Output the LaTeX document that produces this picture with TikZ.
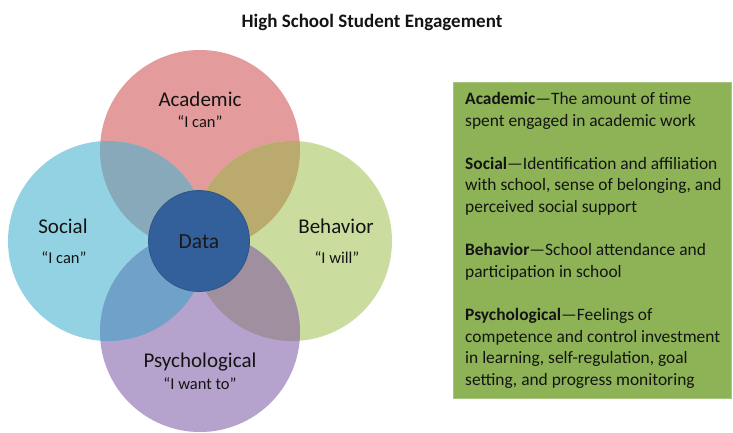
\documentclass[tikz,border=0pt]{standalone}
\usepackage{fontspec}
\setmainfont{Carlito}
\definecolor{acad}{HTML}{E39B9B}
\definecolor{soc}{HTML}{93D2E3}
\definecolor{beh}{HTML}{CADD9F}
\definecolor{psy}{HTML}{B5A3CD}
\definecolor{as}{HTML}{88A9B9}
\definecolor{ab}{HTML}{BBAA6E}
\definecolor{sp}{HTML}{6FA1C9}
\definecolor{bp}{HTML}{A08F9F}
\definecolor{data}{HTML}{33609A}
\definecolor{databorder}{HTML}{2C5588}
\definecolor{boxgreen}{HTML}{8DB356}
\definecolor{txt}{HTML}{141414}
\tikzset{
  venn/.style={circle, minimum size=200pt, inner sep=0pt},
  lab/.style={font=\fontsize{21}{23}\selectfont, text=txt, inner sep=0pt},
  sub/.style={font=\fontsize{16.5}{18}\selectfont, text=txt, inner sep=0pt},
}
\begin{document}
\begin{tikzpicture}[x=1pt,y=-1pt]
\useasboundingbox (0,0) rectangle (733,433);
\fill[white] (0,0) rectangle (733,433);
\coordinate (cA) at (200,150);
\coordinate (cS) at (108,241);
\coordinate (cB) at (292,241);
\coordinate (cP) at (200,332);
% base circles
\node[venn, fill=acad] (A) at (cA) {};
\node[venn, fill=soc] (S) at (cS) {};
\node[venn, fill=beh] (B) at (cB) {};
\node[venn, fill=psy] (P) at (cP) {};
% overlaps
\begin{scope}\clip (cA) circle (100); \fill[as] (cS) circle (100); \end{scope}
\begin{scope}\clip (cA) circle (100); \fill[ab] (cB) circle (100); \end{scope}
\begin{scope}\clip (cP) circle (100); \fill[sp] (cS) circle (100); \end{scope}
\begin{scope}\clip (cP) circle (100); \fill[bp] (cB) circle (100); \end{scope}
% data
\node[circle, minimum size=101pt, inner sep=0pt, fill=data, draw=databorder, line width=0.8pt] (D) at (199,241) {};
\node[font=\fontsize{21.5}{24}\selectfont, text=black!90, inner sep=0pt] (Dl) at (199,242) {Data};
% labels
\node[lab] (Al) at (200,99) {Academic};
\node[sub] (As) at (200,122) {“I can”};
\node[lab] (Sl) at (63,226) {Social};
\node[sub] (Ss) at (64,258) {“I can”};
\node[lab] (Bl) at (336,226) {Behavior};
\node[sub] (Bs) at (337,258) {“I will”};
\node[lab] (Pl) at (200,362) {Psychological};
\node[sub] (Ps) at (200,384) {“I want to”};
% title
\node[font=\fontsize{19}{22}\selectfont\bfseries, text=txt, inner sep=0pt] (T) at (372,22) {High School Student Engagement};
% green box
\node[draw=boxgreen!75!white, fill=boxgreen, minimum width=278pt, minimum height=316pt, anchor=north west, inner sep=0pt, line width=0.6pt] (G) at (453,82) {};
\node[anchor=north west, inner sep=0pt, align=left, text=txt,
      font=\fontsize{17.4}{21.6}\selectfont] (GT) at (465,92)
{\textbf{Academic}—The amount of time\\
spent engaged in academic work\\[21.6pt]
\textbf{Social}—Identification and affiliation\\
with school, sense of belonging, and\\
perceived social support\\[21.6pt]
\textbf{Behavior}—School attendance and\\
participation in school\\[21.6pt]
\textbf{Psychological}—Feelings of\\
competence and control investment\\
in learning, self-regulation, goal\\
setting, and progress monitoring};
\end{tikzpicture}
\end{document}
